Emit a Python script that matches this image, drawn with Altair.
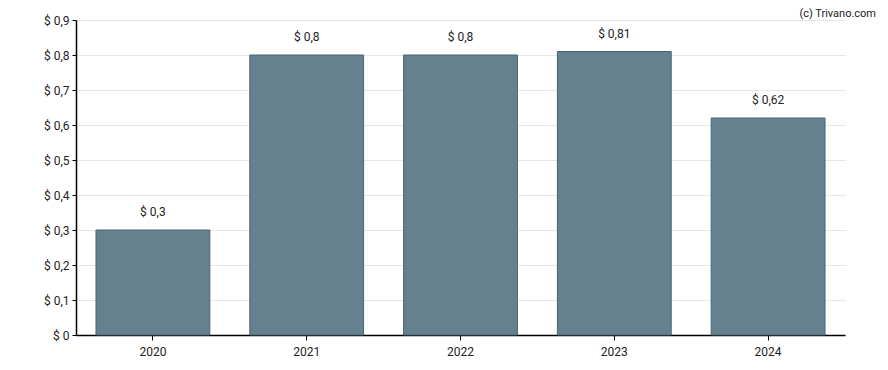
import altair as alt
import pandas as pd

years = ["2020", "2021", "2022", "2023", "2024"]
values = [0.30, 0.80, 0.80, 0.81, 0.62]
y_ticks = [0, 0.1, 0.2, 0.3, 0.4, 0.5, 0.6, 0.7, 0.8, 0.9]

df = pd.DataFrame({"year": years, "value": values})

W, H = 769, 315
FONT = "Roboto"

yenc = alt.Y("value:Q", title=None,
             scale=alt.Scale(domain=[0, 0.9], nice=False),
             axis=alt.Axis(values=y_ticks,
                           labelExpr="'$ ' + replace(format(datum.value, '.1~f'), '.', ',')",
                           labelFont=FONT, labelFontSize=12, labelColor="#222",
                           labelOverlap=False,
                           domainColor="#000", tickColor="#000", tickSize=4, labelPadding=3,
                           gridColor="#e6e6e6"))

base = alt.Chart(df).encode(
    x=alt.X("year:N", title=None, sort=years,
            scale=alt.Scale(paddingInner=0.26, paddingOuter=0.13),
            axis=alt.Axis(labelAngle=0, labelFont=FONT, labelFontSize=12, labelColor="#222",
                          domainColor="#000", tickColor="#000", tickSize=5, labelPadding=6,
                          grid=False)),
    y=yenc,
)

bars = base.mark_bar(color="#65808f", stroke="#4a6272", strokeWidth=1)

labels = base.mark_text(font=FONT, fontSize=12, color="#222", dy=-18).encode(
    text=alt.Text("lbl:N"),
).transform_calculate(lbl="'$ ' + replace(toString(datum.value), '.', ',')")

credit = alt.Chart(pd.DataFrame({"t": ["(c) Trivano.com"]})).mark_text(
    font=FONT, fontSize=11, color="#222", align="right", baseline="top"
).encode(x=alt.value(W + 31), y=alt.value(-12), text="t:N")

chart = alt.layer(bars, labels, credit).properties(
    width=W, height=H,
    autosize=alt.AutoSizeParams(type="none"),
    padding={"left": 68, "top": 12, "right": 32, "bottom": 30},
).configure_view(stroke=None).configure_axis(domainWidth=1.5)

chart.save("out.html", embed_options={"renderer": "svg", "actions": False})
